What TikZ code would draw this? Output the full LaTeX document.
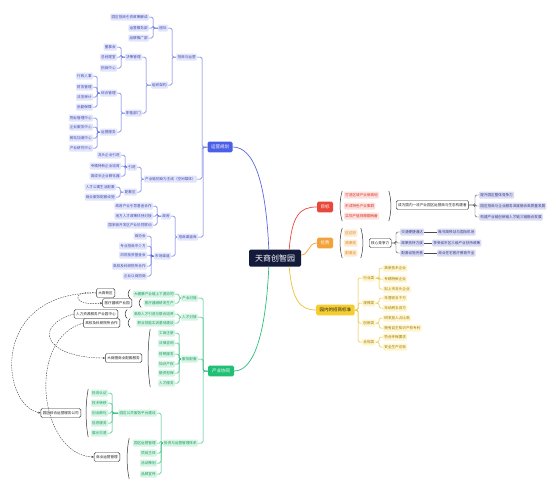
\documentclass[tikz,border=0pt]{standalone}
\usepackage{fontspec}
\newfontfamily\cjk{Noto Sans CJK SC}
\usetikzlibrary{arrows.meta}
\definecolor{navy}{HTML}{141A3A}
\definecolor{bM}{HTML}{4A5FE6}
\definecolor{bLine}{HTML}{5B68DE}
\definecolor{bL}{HTML}{E3E6FB}
\definecolor{bT}{HTML}{3A49B0}
\definecolor{rM}{HTML}{E8473B}
\definecolor{rL}{HTML}{FDE1DE}
\definecolor{rT}{HTML}{D8352A}
\definecolor{oM}{HTML}{F2A23A}
\definecolor{oL}{HTML}{FDEBD2}
\definecolor{oT}{HTML}{E0861A}
\definecolor{yM}{HTML}{F6CD2E}
\definecolor{yLine}{HTML}{EAC232}
\definecolor{yL}{HTML}{FFF5D0}
\definecolor{yT}{HTML}{9C7A00}
\definecolor{gM}{HTML}{1FBF75}
\definecolor{gLine}{HTML}{2CBF7C}
\definecolor{gL}{HTML}{D7F4E5}
\definecolor{gT}{HTML}{169C5D}
\definecolor{lvF}{HTML}{DCDDF2}
\definecolor{lvT}{HTML}{2F3A8F}
\newcommand\myLp[3]{\draw[brk] ({#1+2.2},#2) .. controls ({#1-0.6},{#2+(#3-#2)*0.3}) and ({#1-0.6},{#3-(#3-#2)*0.3}) .. ({#1+2.2},#3);}
\newcommand\myRp[3]{\draw[brk] ({#1-2.2},#2) .. controls ({#1+0.6},{#2+(#3-#2)*0.3}) and ({#1+0.6},{#3-(#3-#2)*0.3}) .. ({#1-2.2},#3);}
\begin{document}
\begin{tikzpicture}[x=1pt,y=-1pt,
  tx/.style={font=\cjk\fontsize{3.6}{4.3}\selectfont, inner xsep=1.2pt, inner ysep=1.2pt, minimum height=7pt, rounded corners=1pt},
  bc/.style={tx, fill=bL, text=bT},
  rc/.style={tx, fill=rL, text=rT},
  oc/.style={tx, fill=oL, text=oT},
  yc/.style={tx, fill=yL, text=yT},
  gc/.style={tx, fill=gL, text=gT},
  lv/.style={tx, fill=lvF, text=lvT},
  bx/.style={tx, draw=black!80, fill=white, text=black!85, inner xsep=2pt, minimum height=9pt, line width=0.45pt, rounded corners=1.5pt},
  br/.style={font=\cjk\fontsize{4.5}{5}\selectfont, inner xsep=3.5pt, minimum height=10pt, rounded corners=1.5pt, text=white},
  bline/.style={draw=bLine, line width=0.5pt, rounded corners=1.5pt},
  yline/.style={draw=yLine, line width=0.5pt, rounded corners=1.5pt},
  gline/.style={draw=gLine, line width=0.5pt, rounded corners=1.5pt},
  kline/.style={draw=black!70, line width=0.45pt, rounded corners=1.5pt},
  brk/.style={draw=black!80, line width=0.5pt},
  dsh/.style={draw=black!75, line width=0.4pt, dash pattern=on 1.5pt off 1pt, -{Stealth[length=2.5pt,width=2pt]}}
]
\useasboundingbox (0,0) rectangle (556,498);
\fill[white] (0,0) rectangle (556,498);

% ---------- root ----------
\node[font=\cjk\fontsize{8}{9}\selectfont, fill=navy, text=white, inner xsep=6pt, minimum height=17pt, rounded corners=1.5pt] (root) at (275,258) {天商创智园};

% ---------- blue branch ----------
\node[br, fill=bM] (bn) at (220,147) {运营规划};
\node[bc, anchor=east] (A) at (197,57) {招商与运营};
\node[bc, anchor=east] (A1) at (168,28) {团队};
\node[bc, anchor=east] (A1a) at (149,17) {园区招商引资政策解读};
\node[bc, anchor=east] (A1b) at (149,28) {运营服务部};
\node[bc, anchor=east] (A1c) at (149,38) {品牌推广部};
\node[bc, anchor=east] (A2) at (168,85) {组织架构};
\node[bc, anchor=east] (A2a) at (142,57) {决策管理};
\node[bc, anchor=east] (A2a1) at (117,47) {董事会};
\node[bc, anchor=east] (A2a2) at (117,57) {总经理室};
\node[bc, anchor=east] (A2a3) at (117,68) {招商中心};
\node[bc, anchor=east] (A2b) at (142,113) {职能部门};
\node[bc, anchor=east] (P1) at (117,93) {综合管理};
\node[bc, anchor=east] (P1a) at (93,76) {行政人事};
\node[bc, anchor=east] (P1b) at (93,87) {财务管理};
\node[bc, anchor=east] (P1c) at (93,97) {法务审计};
\node[bc, anchor=east] (P1d) at (93,107) {后勤保障};
\node[bc, anchor=east] (P2) at (117,132) {运营服务};
\node[bc, anchor=east] (P2a) at (93,118) {物业管理中心};
\node[bc, anchor=east] (P2b) at (93,127) {企业服务中心};
\node[bc, anchor=east] (P2c) at (93,138) {孵化加速中心};
\node[bc, anchor=east] (P2d) at (93,148) {产业研究中心};
\node[bc, anchor=east] (B) at (197,179) {产业链招商为主线（空间载体）};
\node[bc, anchor=east] (B1) at (137,167) {引进};
\node[bc, anchor=east] (B1a) at (121,155) {龙头企业引进};
\node[bc, anchor=east] (B1b) at (121,166) {专精特新企业培育};
\node[bc, anchor=east] (B1c) at (121,176) {高成长企业孵化器};
\node[bc, anchor=east] (B2) at (137,192) {配套区};
\node[bc, anchor=east] (B2a) at (116,187) {人才公寓生活配套};
\node[bc, anchor=east] (B2b) at (116,197) {商业服务配套设施};
\node[bc, anchor=east] (C) at (198,237) {招商渠道库};
\node[bc, anchor=east] (C1) at (171,216) {政府};
\node[bc, anchor=east] (C1a) at (153,206) {政府产业引导基金合作};
\node[bc, anchor=east] (C1b) at (153,216) {地方人才政策扶持对接};
\node[bc, anchor=east] (C1c) at (153,225) {国家级开发区产业协同联动};
\node[bc, anchor=east] (C2) at (171,256) {市场渠道};
\node[bc, anchor=east] (C2a) at (147,236) {商协会};
\node[bc, anchor=east] (C2b) at (147,246) {专业招商中介方};
\node[bc, anchor=east] (C2c) at (147,255) {风险投资基金会};
\node[bc, anchor=east] (C2d) at (147,266) {高校及科研院所合作};
\node[bc, anchor=east] (C2e) at (147,276) {企业以商招商};

\foreach \c in {A,B,C} \draw[bline] (\c.east) -- ++(5,0) |- (bn.west);
\foreach \c/\p in {A1/A,A2/A,A1a/A1,A1b/A1,A1c/A1,A2a/A2,A2b/A2,A2a1/A2a,A2a2/A2a,A2a3/A2a,
  P1/A2b,P2/A2b,P1a/P1,P1b/P1,P1c/P1,P1d/P1,P2a/P2,P2b/P2,P2c/P2,P2d/P2,
  B1/B,B2/B,B1a/B1,B1b/B1,B1c/B1,B2a/B2,B2b/B2,
  C1/C,C2/C,C1a/C1,C1b/C1,C1c/C1,C2a/C2,C2b/C2,C2c/C2,C2d/C2,C2e/C2}
  \draw[bline] (\c.east) -- ++(4,0) |- (\p.west);

% ---------- red branch ----------
\node[br, fill=rM] (rn) at (325,207) {目标};
\node[rc, anchor=west] (r1) at (344,195) {打造区域产业新高地};
\node[rc, anchor=west] (r2) at (344,206) {形成特色产业集群};
\node[rc, anchor=west] (r3) at (344,216) {实现产值规模翻两番};
\myLp{340}{191}{221}
\myRp{391}{191}{221}
\node[bx, anchor=west] (rbox) at (396,205) {成为国内一流产业园区运营商与生态构建者};
\node[lv, anchor=west] (rp1) at (479,195) {提升园区整体竞争力};
\node[lv, anchor=west] (rp2) at (479,206) {园区招商与企业服务深度融合高质量发展};
\node[lv, anchor=west] (rp3) at (479,217) {构建产业链创新链人才链三链融合发展};
\foreach \c in {rp1,rp2,rp3} \draw[kline] (\c.west) -- ++(-4,0) |- (rbox.east);

% ---------- orange branch ----------
\node[br, fill=oM] (on) at (325,243) {优势};
\node[oc, anchor=west] (o1) at (344,233) {区位好};
\node[oc, anchor=west] (o2) at (344,243) {政策优};
\node[oc, anchor=west] (o3) at (344,253) {配套全};
\myLp{340}{228}{258}
\myRp{363}{228}{258}
\node[bx, anchor=west] (obox) at (369,243) {核心竞争力};
\node[lv, anchor=west] (l1) at (400,232) {交通便捷通达};
\node[lv, anchor=west] (l2) at (400,243) {政策扶持力度};
\node[lv, anchor=west] (l3) at (400,253) {配套设施完善};
\node[lv, anchor=west] (m1) at (437,232) {毗邻高铁站与国际机场};
\node[lv, anchor=west] (m2) at (432,243) {享受省市区三级产业扶持政策};
\node[lv, anchor=west] (m3) at (437,253) {商业住宅医疗教育齐全};
\foreach \c in {l1,l2,l3} \draw[kline] (\c.west) -- ++(-4,0) |- (obox.east);
\draw[kline] (l1.east) -- (m1.west);
\draw[kline] (l2.east) -- (m2.west);
\draw[kline] (l3.east) -- (m3.west);

% ---------- yellow branch ----------
\node[br, fill=yM, text=black!85, anchor=west] (yn) at (316,310) {园内的招商标准};
\node[yc, anchor=west] (Y1) at (362,278) {行业类};
\node[yc, anchor=west] (Y2) at (362,303) {规模类};
\node[yc, anchor=west] (Y3) at (362,323) {创新类};
\node[yc, anchor=west] (Y4) at (362,342) {合规类};
\node[yc, anchor=west] (Y1a) at (383,268) {高新技术企业};
\node[yc, anchor=west] (Y1b) at (383,279) {专精特新企业};
\node[yc, anchor=west] (Y1c) at (383,289) {拟上市龙头企业};
\node[yc, anchor=west] (Y2a) at (383,298) {年营收五千万};
\node[yc, anchor=west] (Y2b) at (383,308) {年纳税五百万};
\node[yc, anchor=west] (Y3a) at (383,318) {研发投入占比高};
\node[yc, anchor=west] (Y3b) at (383,328) {拥有自主知识产权专利};
\node[yc, anchor=west] (Y4a) at (383,337) {符合环保要求};
\node[yc, anchor=west] (Y4b) at (383,347) {安全生产达标};
\foreach \c in {Y1,Y2,Y3,Y4} \draw[yline] (\c.west) -- ++(-4,0) |- (yn.east);
\foreach \c/\p in {Y1a/Y1,Y1b/Y1,Y1c/Y1,Y2a/Y2,Y2b/Y2,Y3a/Y3,Y3b/Y3,Y4a/Y4,Y4b/Y4}
  \draw[yline] (\c.west) -- ++(-4,0) |- (\p.east);

% ---------- green branch ----------
\node[br, fill=gM, inner xsep=4pt] (gn) at (221,371) {产业协同};
\node[gc, anchor=east] (G1) at (198,298) {产业对接};
\node[gc, anchor=east] (G2) at (198,317) {人才对接};
\node[gc, anchor=east] (G3) at (198,359) {服务配套};
\node[gc, anchor=east] (G4) at (198,443) {投资与运营管理体系};
\node[gc, anchor=east] (G1a) at (175,294) {大健康产业链上下游协同};
\node[gc, anchor=east] (G1b) at (175,303) {医疗器械研发生产};
\node[gc, anchor=east] (G2a) at (175,314) {高校人才引进与联合培养};
\node[gc, anchor=east] (G2b) at (175,323) {职业技能实训基地建设};
\node[gc, anchor=east] (G3a) at (175,333) {工商注册};
\node[gc, anchor=east] (G3b) at (175,343) {法律咨询};
\node[gc, anchor=east] (G3c) at (175,354) {财税服务};
\node[gc, anchor=east] (G3d) at (175,364) {知识产权};
\node[gc, anchor=east] (G3e) at (175,373) {融资担保};
\node[gc, anchor=east] (G3f) at (175,383) {人才服务};
\node[gc, anchor=east] (G4a) at (157,413) {园区公共服务平台建设};
\node[gc, anchor=east] (G4b) at (157,443) {园区运营管理};
\node[gc, anchor=east] (G4c) at (157,453) {项目主体};
\node[gc, anchor=east] (G4d) at (157,463) {活动策划};
\node[gc, anchor=east] (G4e) at (157,474) {品牌宣传};
\node[gc, anchor=east] (H1) at (108,393) {检测认证};
\node[gc, anchor=east] (H2) at (108,403) {技术转移};
\node[gc, anchor=east] (H3) at (108,413) {创业孵化};
\node[gc, anchor=east] (H4) at (108,423) {信息服务};
\node[gc, anchor=east] (H5) at (108,433) {展示交易};
\foreach \c in {G1,G2,G3,G4} \draw[gline] (\c.east) -- ++(5,0) |- (gn.west);
\foreach \c/\p in {G1a/G1,G1b/G1,G2a/G2,G2b/G2,G3a/G3,G3b/G3,G3c/G3,G3d/G3,G3e/G3,G3f/G3,
  G4a/G4,G4b/G4,G4c/G4,G4d/G4,G4e/G4,H1/G4a,H2/G4a,H3/G4a,H4/G4a,H5/G4a}
  \draw[gline] (\c.east) -- ++(4,0) |- (\p.west);

% green side boxes and brackets
\node[bx, anchor=east] (g1ax) at (115,293) {大高新区};
\node[bx, anchor=east] (g1bx) at (132,303) {医疗器械产业园};
\node[bx, anchor=east] (g2ax) at (118,314) {人力资源服务产业园中心};
\node[bx, anchor=east] (g2bx) at (120,323) {高校及科研院所合作};
\node[bx, anchor=east] (g3x) at (142,358) {大商圈商业配套服务};
\node[bx, anchor=east] (g4ax) at (81,413) {园区综合运营服务公司};
\node[bx, anchor=east] (g4x) at (120,457) {商业运营管理};
\myLp{128}{289.5}{298.5}
\myLp{139}{298.5}{307.5}
\myLp{125}{309.5}{318.5}
\myLp{128}{318.5}{327.5}
\myLp{148}{329}{387}
\myLp{86}{389}{437}
\myLp{127}{438}{479}

% dashed relationships
\draw[dsh] (g1ax.west) .. controls (70,289) and (72,307) .. (g1bx.west);
\draw[dsh] (g1ax.west) .. controls (-10,292) and (0,405) .. (g4ax.west);
\draw[dsh] (g2ax.west) .. controls (32,326) and (45,358) .. (g3x.west);
\draw[dsh] (g2bx.west) .. controls (25,340) and (40,455) .. (g4x.west);

% ---------- main curves ----------
\draw[draw=bLine, line width=0.7pt] ([xshift=20pt]root.north west) .. controls (266,185) and (255,147) .. (bn.east);
\draw[draw=rM, line width=0.7pt] ([xshift=-12pt]root.north east) .. controls (292,215) and (300,207) .. (rn.west);
\draw[draw=oM, line width=0.7pt] ([yshift=3pt]root.east) .. controls (309,255) and (308,243) .. (on.west);
\draw[draw=yLine, line width=0.7pt] ([xshift=-12pt]root.south east) .. controls (292,300) and (300,310) .. (yn.west);
\draw[draw=gLine, line width=0.7pt] ([xshift=20pt]root.south west) .. controls (266,330) and (255,371) .. (gn.east);
\end{tikzpicture}
\end{document}
